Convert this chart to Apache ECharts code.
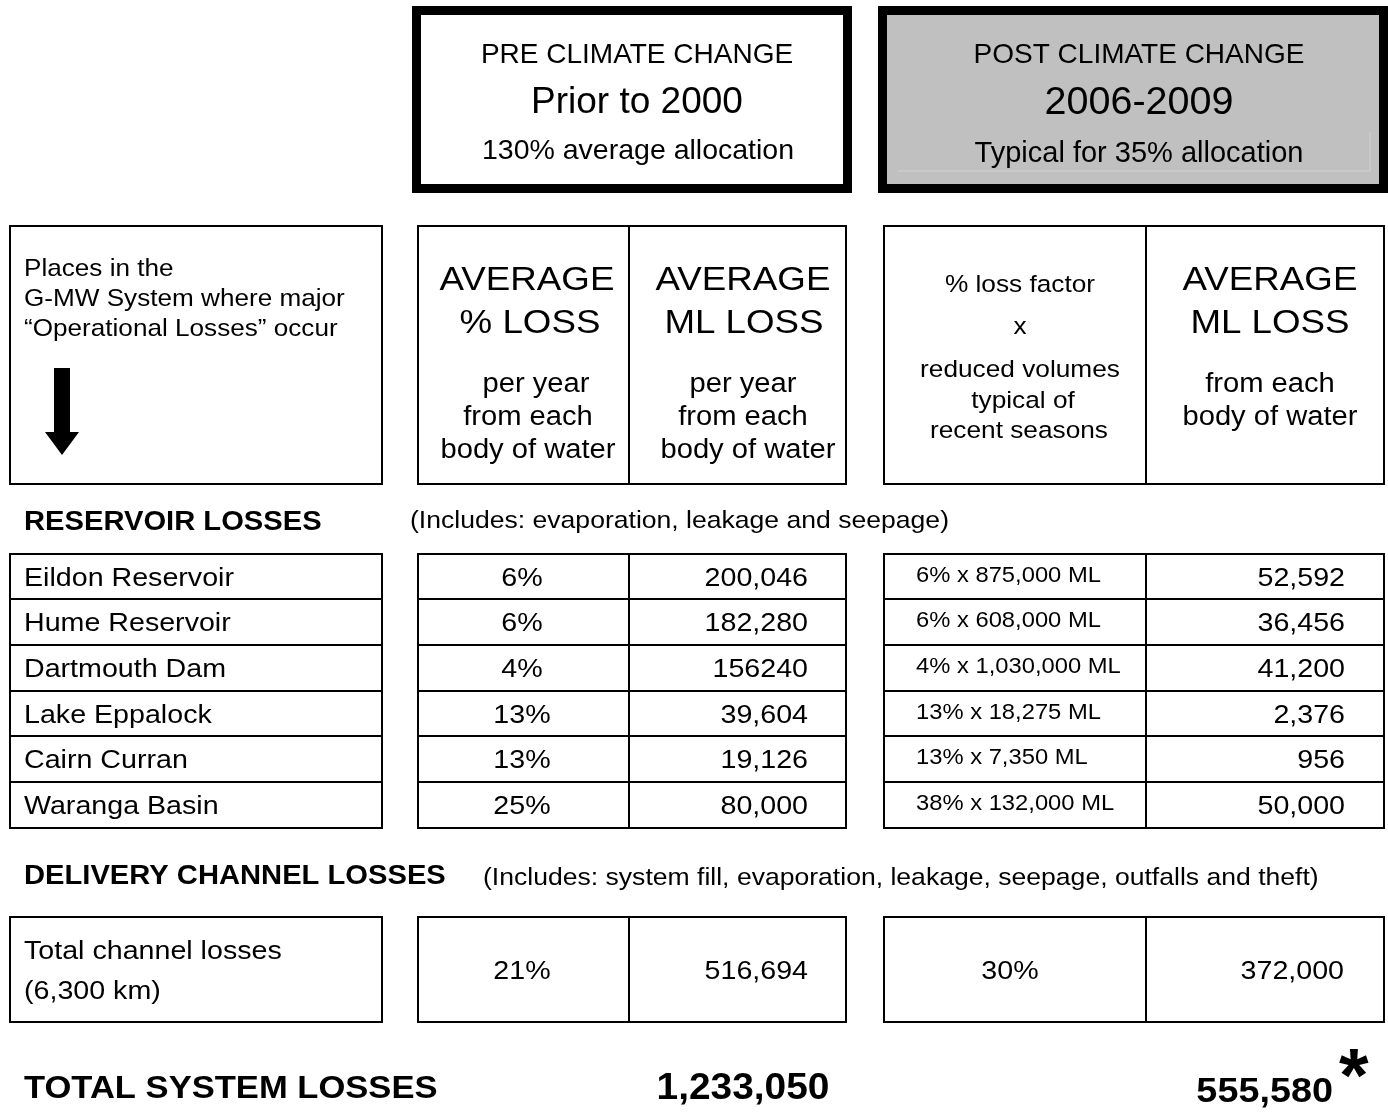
<!DOCTYPE html>
<html>
<head>
<meta charset="utf-8">
<script src="https://cdn.jsdelivr.net/npm/echarts@6/dist/echarts.min.js"></script>
<style>
  html, body { margin: 0; padding: 0; background: #fff; }
  #chart { width: 1388px; height: 1112px; }
</style>
</head>
<body>
<div id="chart"></div>
<script>
/* 系统损失表 */
const FONT = "'Liberation Sans', Arial, sans-serif";

// ---- data ----
const preTitle = ['PRE CLIMATE CHANGE', 'Prior to 2000', '130% average allocation'];
const postTitle = ['POST CLIMATE CHANGE', '2006-2009', 'Typical for 35% allocation'];
const placesNote = ['Places in the', 'G-MW System where major', '\u201cOperational Losses\u201d occur'];
const preHeadPct = ['AVERAGE', '% LOSS', 'per year', 'from each', 'body of water'];
const preHeadML = ['AVERAGE', 'ML LOSS', 'per year', 'from each', 'body of water'];
const postHeadFactor = ['% loss factor', 'x', 'reduced volumes', 'typical of', 'recent seasons'];
const postHeadML = ['AVERAGE', 'ML LOSS', 'from each', 'body of water'];

const reservoirTitle = 'RESERVOIR LOSSES';
const reservoirNote = '(Includes: evaporation, leakage and seepage)';
const reservoirs = ['Eildon Reservoir', 'Hume Reservoir', 'Dartmouth Dam', 'Lake Eppalock', 'Cairn Curran', 'Waranga Basin'];
const prePct = ['6%', '6%', '4%', '13%', '13%', '25%'];
const preML = ['200,046', '182,280', '156240', '39,604', '19,126', '80,000'];
const postFactor = ['6% x 875,000 ML', '6% x 608,000 ML', '4% x 1,030,000 ML', '13% x 18,275 ML', '13% x 7,350 ML', '38% x 132,000 ML'];
const postML = ['52,592', '36,456', '41,200', '2,376', '956', '50,000'];

const channelTitle = 'DELIVERY CHANNEL LOSSES';
const channelNote = '(Includes: system fill, evaporation, leakage, seepage, outfalls and theft)';
const channelName = ['Total channel losses', '(6,300 km)'];
const channelPre = ['21%', '516,694'];
const channelPost = ['30%', '372,000'];

const totalLabel = 'TOTAL SYSTEM LOSSES';
const totalPre = '1,233,050';
const totalPost = '555,580';

// ---- layout (page units, same as pixels) ----
const LX = [10, 382];
const PX = [418, 629, 846];
const QX = [884, 1146, 1384];
const HEAD_Y = [226, 484];
const ROW_Y = [554, 599, 645, 691, 736, 782, 828];
const CH_Y = [917, 1022];
const SX = 1.08;   // 表格文字略微横向拉伸
const DY = 2;      // 文字垂直微调

const boxes = [];
const labels = [];

function rect(x0, y0, x1, y1, lw, fill) {
  boxes.push({ kind: 'rect', x0, y0, x1, y1, lw, fill: fill || null });
}
function text(t, x, y, size, opts) {
  opts = opts || {};
  labels.push({
    t, x, y: y + DY, size,
    bold: !!opts.bold,
    align: opts.align || 'left',
    sx: opts.sx == null ? SX : opts.sx
  });
}

// top boxes
rect(416.5, 10.5, 847.5, 188.5, 9, '#ffffff');
rect(882.5, 10.5, 1383.5, 188.5, 9, '#c0c0c0');
boxes.push({ kind: 'line', pts: [[898, 171], [1370, 171], [1370, 132]], color: '#d2d2d2' });
text(preTitle[0], 637, 53, 28, { align: 'center', sx: 1 });
text(preTitle[1], 637, 101, 37, { align: 'center', sx: 1 });
text(preTitle[2], 638, 149, 28.5, { align: 'center', sx: 1 });
text(postTitle[0], 1139, 53, 28, { align: 'center', sx: 1 });
text(postTitle[1], 1139, 101, 39.5, { align: 'center', sx: 1 });
text(postTitle[2], 1139, 152, 29, { align: 'center', sx: 1 });

// header boxes
rect(LX[0], HEAD_Y[0], LX[1], HEAD_Y[1], 2);
rect(PX[0], HEAD_Y[0], PX[1], HEAD_Y[1], 2);
rect(PX[1], HEAD_Y[0], PX[2], HEAD_Y[1], 2);
rect(QX[0], HEAD_Y[0], QX[1], HEAD_Y[1], 2);
rect(QX[1], HEAD_Y[0], QX[2], HEAD_Y[1], 2);
boxes.push({ kind: 'poly', pts: [[54, 368], [70, 368], [70, 432], [79, 432], [62, 455], [45, 432], [54, 432]] });

[267, 297, 327].forEach((y, i) => text(placesNote[i], 24, y, 24.2));
const headY = [279, 322, 383, 416, 449];
const headSize = [34, 34, 27, 27, 27];
const preCx = [527, 530, 536, 528, 528];
const mlCx = [743, 744, 743, 743, 748];
preHeadPct.forEach((t, i) => text(t, preCx[i], headY[i], headSize[i], { align: 'center' }));
preHeadML.forEach((t, i) => text(t, mlCx[i], headY[i], headSize[i], { align: 'center' }));
const facY = [283, 325, 368, 399, 429];
const facCx = [1020, 1020, 1020, 1023, 1019];
postHeadFactor.forEach((t, i) => text(t, facCx[i], facY[i], 24.3, { align: 'center' }));
const qmlY = [279, 322, 383, 416];
const qmlSize = [34, 34, 27, 27];
postHeadML.forEach((t, i) => text(t, 1270, qmlY[i], qmlSize[i], { align: 'center' }));

// reservoir section
text(reservoirTitle, 24, 521, 27, { bold: true });
text(reservoirNote, 410, 519, 24.6);
reservoirs.forEach((name, i) => {
  const y0 = ROW_Y[i], y1 = ROW_Y[i + 1];
  const cy = (y0 + y1) / 2;
  rect(LX[0], y0, LX[1], y1, 2);
  rect(PX[0], y0, PX[1], y1, 2);
  rect(PX[1], y0, PX[2], y1, 2);
  rect(QX[0], y0, QX[1], y1, 2);
  rect(QX[1], y0, QX[2], y1, 2);
  text(name, 24, cy, 26.5);
  text(prePct[i], 522, cy, 26.5, { align: 'center' });
  text(preML[i], 808, cy, 26.5, { align: 'right' });
  text(postFactor[i], 916, cy - 3, 22);
  text(postML[i], 1345, cy, 26.5, { align: 'right' });
});

// delivery channel section
text(channelTitle, 24, 875, 27, { bold: true });
text(channelNote, 483, 876, 24.6);
rect(LX[0], CH_Y[0], LX[1], CH_Y[1], 2);
rect(PX[0], CH_Y[0], PX[1], CH_Y[1], 2);
rect(PX[1], CH_Y[0], PX[2], CH_Y[1], 2);
rect(QX[0], CH_Y[0], QX[1], CH_Y[1], 2);
rect(QX[1], CH_Y[0], QX[2], CH_Y[1], 2);
text(channelName[0], 24, 950, 26.5);
text(channelName[1], 24, 990, 26.5);
text(channelPre[0], 522, 970, 26.5, { align: 'center' });
text(channelPre[1], 808, 970, 26.5, { align: 'right' });
text(channelPost[0], 1010, 970, 26.5, { align: 'center' });
text(channelPost[1], 1344, 970, 26.5, { align: 'right' });

// totals
text(totalLabel, 24, 1087, 32, { bold: true });
text(totalPre, 743, 1087, 36, { bold: true, align: 'center' });
text(totalPost, 1333, 1090, 35, { bold: true, align: 'right' });
text('*', 1339, 1078, 76, { bold: true, sx: 1 });

// ---- chart ----
const chart = echarts.init(document.getElementById('chart'), null, { renderer: 'canvas' });

function renderBox(params, api) {
  const b = boxes[params.dataIndex];
  if (b.kind === 'rect') {
    const p0 = api.coord([b.x0, b.y0]);
    const p1 = api.coord([b.x1, b.y1]);
    return {
      type: 'rect',
      shape: {
        x: Math.min(p0[0], p1[0]), y: Math.min(p0[1], p1[1]),
        width: Math.abs(p1[0] - p0[0]), height: Math.abs(p1[1] - p0[1])
      },
      style: { fill: b.fill || 'none', stroke: '#000', lineWidth: b.lw }
    };
  }
  const pts = b.pts.map(p => api.coord(p));
  if (b.kind === 'line') {
    return { type: 'polyline', shape: { points: pts }, style: { fill: 'none', stroke: b.color, lineWidth: 1 } };
  }
  return { type: 'polygon', shape: { points: pts }, style: { fill: '#000' } };
}

function renderLabel(params, api) {
  const l = labels[params.dataIndex];
  const p = api.coord([l.x, l.y]);
  return {
    type: 'text',
    x: p[0],
    y: p[1],
    scaleX: l.sx,
    style: {
      text: l.t,
      fontFamily: FONT,
      fontSize: l.size,
      fontWeight: l.bold ? 'bold' : 'normal',
      fill: '#000',
      align: l.align,
      verticalAlign: 'middle'
    }
  };
}

chart.setOption({
  animation: false,
  grid: { left: 0, right: 0, top: 0, bottom: 0 },
  xAxis: { type: 'value', min: 0, max: 1388, show: false },
  yAxis: { type: 'value', min: 0, max: 1112, inverse: true, show: false },
  series: [
    {
      type: 'custom',
      name: 'boxes',
      renderItem: renderBox,
      clip: false,
      silent: true,
      encode: { x: 0, y: 1 },
      data: boxes.map(b => (b.kind === 'rect' ? [b.x0, b.y0] : b.pts[0]))
    },
    {
      type: 'custom',
      name: 'labels',
      renderItem: renderLabel,
      clip: false,
      silent: true,
      encode: { x: 0, y: 1 },
      data: labels.map(l => [l.x, l.y])
    }
  ]
});
</script>
</body>
</html>
